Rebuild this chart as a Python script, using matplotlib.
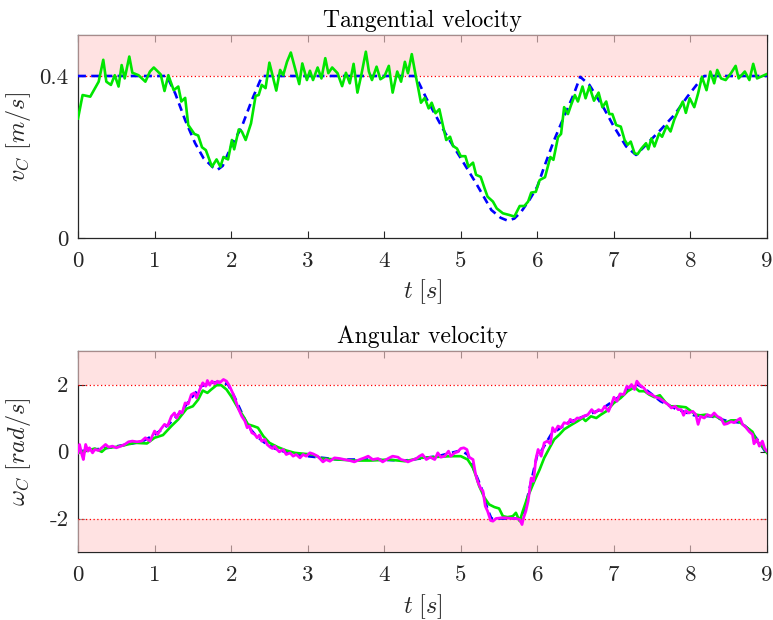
import matplotlib
matplotlib.use("Agg")
import matplotlib.pyplot as plt
import numpy as np

plt.rcParams['font.family'] = ['cmr10', 'DejaVu Serif']
plt.rcParams['mathtext.fontset'] = 'cm'
plt.rcParams['axes.unicode_minus'] = False
plt.rcParams['axes.formatter.use_mathtext'] = True

# ---------------- data: tangential velocity ----------------
v_ref_t = [0.0, 1.16, 1.27, 1.40, 1.53, 1.64, 1.76, 1.82, 1.89, 2.00, 2.14, 2.27, 2.40, 2.42,
           4.41, 4.55, 4.80, 5.00, 5.20, 5.40, 5.52, 5.61, 5.70, 5.79, 5.90, 6.00, 6.09, 6.22,
           6.35, 6.48, 6.56, 6.68, 6.87, 7.00, 7.16, 7.29, 7.44, 7.61, 7.79, 7.96, 8.13, 8.18, 9.0]
v_ref = [0.4, 0.4, 0.357, 0.291, 0.234, 0.197, 0.175, 0.168, 0.178, 0.226, 0.275, 0.340, 0.398, 0.4,
         0.4, 0.345, 0.258, 0.197, 0.135, 0.069, 0.050, 0.043, 0.048, 0.065, 0.095, 0.127, 0.176, 0.242,
         0.300, 0.357, 0.398, 0.378, 0.320, 0.275, 0.226, 0.205, 0.234, 0.267, 0.304, 0.349, 0.390, 0.4, 0.4]

v_meas_t = [0.00, 0.06, 0.16, 0.27, 0.33, 0.37, 0.43, 0.48, 0.53, 0.57, 0.61, 0.67, 0.71, 0.79, 0.88,
            0.94, 0.99, 1.08, 1.13, 1.18, 1.25, 1.31, 1.35, 1.40, 1.44, 1.52, 1.57, 1.62, 1.67, 1.75,
            1.81, 1.86, 1.90, 1.96, 2.01, 2.04, 2.10, 2.14, 2.19, 2.26, 2.32, 2.36, 2.40, 2.45, 2.50,
            2.59, 2.64, 2.68, 2.73, 2.78, 2.83, 2.89, 2.93, 2.99, 3.03, 3.07, 3.13, 3.18, 3.23, 3.27,
            3.32, 3.39, 3.45, 3.50, 3.55, 3.60, 3.65, 3.70, 3.76, 3.80, 3.84, 3.90, 3.95, 4.00, 4.06,
            4.11, 4.17, 4.22, 4.27, 4.31, 4.36, 4.41, 4.44, 4.48, 4.53, 4.58, 4.62, 4.67, 4.72, 4.77,
            4.81, 4.86, 4.90, 4.95, 5.00, 5.06, 5.10, 5.16, 5.20, 5.26, 5.31, 5.35, 5.42, 5.47, 5.55,
            5.63, 5.70, 5.77, 5.83, 5.88, 5.92, 5.98, 6.03, 6.10, 6.17, 6.21, 6.27, 6.31, 6.35, 6.40,
            6.44, 6.49, 6.53, 6.59, 6.63, 6.68, 6.74, 6.80, 6.85, 6.90, 6.94, 6.98, 7.03, 7.09, 7.14,
            7.18, 7.22, 7.27, 7.31, 7.36, 7.42, 7.45, 7.49, 7.53, 7.59, 7.63, 7.69, 7.74, 7.79, 7.85,
            7.90, 7.94, 7.99, 8.05, 8.10, 8.15, 8.21, 8.26, 8.31, 8.35, 8.40, 8.46, 8.53, 8.59, 8.63,
            8.71, 8.77, 8.82, 8.87, 8.94, 9.00]
v_meas = [0.295, 0.353, 0.349, 0.386, 0.440, 0.386, 0.378, 0.402, 0.374, 0.427, 0.394, 0.448, 0.408, 0.402, 0.386,
          0.411, 0.421, 0.404, 0.363, 0.402, 0.365, 0.374, 0.337, 0.346, 0.279, 0.257, 0.253, 0.224, 0.217, 0.176,
          0.194, 0.176, 0.200, 0.194, 0.242, 0.219, 0.268, 0.263, 0.242, 0.283, 0.351, 0.353, 0.378, 0.370, 0.433,
          0.364, 0.415, 0.402, 0.435, 0.458, 0.423, 0.380, 0.431, 0.390, 0.413, 0.390, 0.421, 0.394, 0.444, 0.407,
          0.421, 0.407, 0.375, 0.408, 0.382, 0.430, 0.359, 0.402, 0.460, 0.411, 0.390, 0.423, 0.392, 0.398, 0.425,
          0.359, 0.411, 0.386, 0.435, 0.407, 0.454, 0.402, 0.374, 0.334, 0.346, 0.320, 0.334, 0.308, 0.318, 0.275,
          0.242, 0.250, 0.227, 0.221, 0.202, 0.202, 0.176, 0.186, 0.156, 0.151, 0.123, 0.102, 0.090, 0.073, 0.061,
          0.057, 0.053, 0.079, 0.079, 0.090, 0.112, 0.114, 0.143, 0.150, 0.200, 0.193, 0.249, 0.257, 0.323, 0.306,
          0.328, 0.353, 0.337, 0.374, 0.345, 0.374, 0.339, 0.359, 0.323, 0.337, 0.306, 0.306, 0.279, 0.275, 0.242,
          0.230, 0.238, 0.209, 0.207, 0.221, 0.234, 0.219, 0.246, 0.226, 0.258, 0.250, 0.277, 0.263, 0.293, 0.318,
          0.337, 0.309, 0.345, 0.323, 0.357, 0.398, 0.365, 0.411, 0.382, 0.415, 0.394, 0.390, 0.407, 0.425, 0.394,
          0.411, 0.390, 0.430, 0.394, 0.400, 0.405]

# ---------------- data: angular velocity ----------------
w_ref_t = [0.0, 0.40, 0.83, 1.00, 1.18, 1.35, 1.48, 1.61, 1.74, 1.87, 1.96, 2.05, 2.14, 2.22, 2.33,
           2.44, 2.57, 2.74, 3.00, 3.40, 3.83, 4.27, 4.70, 5.00, 5.09, 5.18, 5.27, 5.35, 5.40, 5.75,
           5.83, 5.92, 6.00, 6.05, 6.18, 6.40, 6.61, 6.83, 7.05, 7.22, 7.29, 7.40, 7.61, 7.83, 8.05,
           8.27, 8.48, 8.66, 8.79, 8.92, 9.00]
w_ref = [0.0, 0.11, 0.29, 0.50, 0.80, 1.20, 1.60, 1.95, 2.05, 2.08, 2.00, 1.60, 1.15, 0.75, 0.46,
         0.26, 0.09, -0.04, -0.14, -0.24, -0.24, -0.27, -0.14, 0.03, -0.09, -0.59, -1.09, -1.73, -2.00, -2.00,
         -1.78, -0.89, -0.09, 0.01, 0.51, 0.86, 1.05, 1.25, 1.60, 1.95, 2.02, 1.88, 1.50, 1.25, 1.08,
         1.05, 0.91, 0.86, 0.61, 0.21, -0.09]

w_meas_t = [0.00, 0.13, 0.22, 0.31, 0.37, 0.48, 0.61, 0.74, 0.90, 1.00, 1.11, 1.22, 1.31, 1.42, 1.50,
            1.57, 1.63, 1.69, 1.74, 1.81, 1.87, 1.94, 2.00, 2.09, 2.16, 2.22, 2.29, 2.35, 2.42, 2.50,
            2.61, 2.72, 2.83, 2.96, 3.07, 3.18, 3.40, 3.61, 3.83, 4.05, 4.27, 4.48, 4.70, 4.87, 5.00,
            5.09, 5.16, 5.20, 5.24, 5.31, 5.37, 5.44, 5.50, 5.55, 5.61, 5.68, 5.72, 5.77, 5.81, 5.87,
            5.96, 6.03, 6.09, 6.16, 6.22, 6.29, 6.35, 6.44, 6.53, 6.59, 6.63, 6.70, 6.77, 6.83, 6.90,
            7.00, 7.09, 7.18, 7.27, 7.33, 7.40, 7.46, 7.53, 7.60, 7.68, 7.74, 7.83, 7.94, 8.00, 8.07,
            8.13, 8.20, 8.27, 8.33, 8.40, 8.46, 8.53, 8.61, 8.68, 8.74, 8.81, 8.87, 8.92, 9.00]
w_meas = [-0.04, 0.03, 0.09, -0.01, 0.11, 0.13, 0.19, 0.26, 0.24, 0.41, 0.49, 0.76, 0.96, 1.28, 1.35,
          1.55, 1.82, 1.75, 1.85, 1.98, 1.98, 1.85, 1.65, 1.30, 1.05, 0.81, 0.76, 0.71, 0.46, 0.26,
          0.13, 0.03, -0.04, -0.07, -0.09, -0.21, -0.24, -0.27, -0.27, -0.24, -0.29, -0.19, -0.16, -0.14, -0.14,
          -0.24, -0.49, -0.74, -1.03, -1.38, -1.58, -1.66, -1.70, -1.93, -1.96, -1.93, -1.83, -2.08, -1.78, -1.38,
          -0.89, -0.54, -0.19, 0.11, 0.36, 0.51, 0.66, 0.79, 0.91, 1.00, 0.91, 1.05, 1.00, 1.10, 1.20,
          1.45, 1.60, 1.80, 1.92, 1.80, 1.80, 1.70, 1.62, 1.68, 1.45, 1.35, 1.35, 1.32, 1.22, 1.10,
          1.08, 1.10, 1.05, 1.05, 0.96, 0.86, 0.93, 0.93, 0.81, 0.71, 0.59, 0.29, 0.21, -0.04]

w_cmd_t = [0.00, 0.02, 0.05, 0.07, 0.10, 0.13, 0.15, 0.19, 0.22, 0.27, 0.31, 0.36, 0.40, 0.45, 0.50,
           0.56, 0.61, 0.66, 0.71, 0.77, 0.83, 0.88, 0.94, 0.97, 1.00, 1.04, 1.08, 1.13, 1.17, 1.22,
           1.26, 1.29, 1.33, 1.36, 1.40, 1.44, 1.48, 1.52, 1.55, 1.59, 1.63, 1.67, 1.69, 1.72, 1.75,
           1.79, 1.82, 1.85, 1.90, 1.94, 1.98, 2.03, 2.07, 2.10, 2.14, 2.18, 2.21, 2.24, 2.27, 2.31,
           2.34, 2.37, 2.40, 2.44, 2.47, 2.51, 2.54, 2.57, 2.60, 2.63, 2.68, 2.72, 2.77, 2.81, 2.85,
           2.90, 2.94, 2.98, 3.03, 3.07, 3.13, 3.20, 3.24, 3.29, 3.35, 3.42, 3.48, 3.55, 3.61, 3.68,
           3.74, 3.79, 3.85, 3.92, 3.98, 4.05, 4.11, 4.18, 4.22, 4.27, 4.31, 4.35, 4.42, 4.46, 4.50,
           4.55, 4.60, 4.66, 4.70, 4.74, 4.79, 4.84, 4.87, 4.92, 4.96, 5.00, 5.04, 5.08, 5.11, 5.16,
           5.19, 5.22, 5.26, 5.29, 5.32, 5.35, 5.39, 5.42, 5.46, 5.53, 5.59, 5.66, 5.72, 5.77, 5.80,
           5.82, 5.85, 5.88, 5.92, 5.95, 5.98, 6.01, 6.05, 6.09, 6.13, 6.17, 6.20, 6.23, 6.27, 6.31,
           6.35, 6.40, 6.43, 6.47, 6.52, 6.56, 6.60, 6.66, 6.71, 6.75, 6.80, 6.84, 6.88, 6.93, 6.97,
           7.00, 7.04, 7.08, 7.13, 7.17, 7.20, 7.23, 7.27, 7.30, 7.34, 7.39, 7.44, 7.49, 7.55, 7.60,
           7.66, 7.71, 7.75, 7.80, 7.84, 7.88, 7.91, 7.94, 7.98, 8.03, 8.07, 8.10, 8.13, 8.18, 8.22,
           8.27, 8.31, 8.35, 8.40, 8.44, 8.48, 8.53, 8.57, 8.61, 8.65, 8.68, 8.72, 8.77, 8.81, 8.83,
           8.87, 8.90, 8.94, 8.97, 9.00]
w_cmd = [-0.04, 0.21, -0.09, -0.24, 0.21, 0.01, 0.11, -0.04, 0.06, 0.03, 0.11, 0.21, 0.13, 0.16, 0.11,
         0.16, 0.21, 0.29, 0.31, 0.29, 0.31, 0.41, 0.31, 0.46, 0.61, 0.51, 0.66, 0.81, 0.76, 1.05,
         1.15, 1.00, 1.20, 1.15, 1.45, 1.42, 1.70, 1.75, 1.60, 1.85, 2.05, 1.95, 2.12, 1.98, 2.10,
         2.02, 2.10, 2.05, 2.15, 2.10, 1.95, 1.70, 1.45, 1.25, 1.05, 0.91, 0.71, 0.76, 0.56, 0.51,
         0.41, 0.49, 0.31, 0.36, 0.21, 0.13, 0.09, 0.16, 0.06, -0.01, 0.06, -0.09, -0.04, -0.14, -0.09,
         -0.19, -0.09, -0.14, -0.04, -0.07, -0.14, -0.31, -0.24, -0.29, -0.19, -0.21, -0.24, -0.27, -0.31, -0.24,
         -0.19, -0.14, -0.24, -0.21, -0.31, -0.21, -0.14, -0.17, -0.24, -0.27, -0.31, -0.27, -0.21, -0.14, -0.09,
         -0.24, -0.17, -0.24, -0.04, -0.17, -0.14, 0.01, -0.14, -0.04, -0.01, 0.09, 0.11, 0.06, -0.17, -0.24,
         -0.64, -0.89, -1.10, -1.18, -1.63, -1.78, -2.06, -2.08, -2.00, -1.98, -1.98, -2.00, -2.00, -2.03, -2.18,
         -1.98, -1.78, -1.48, -0.79, -0.89, -0.24, 0.06, -0.14, 0.26, 0.31, 0.23, 0.71, 0.59, 0.76, 0.71,
         0.86, 0.83, 0.96, 0.89, 1.00, 0.99, 1.05, 1.10, 1.25, 1.15, 1.25, 1.20, 1.35, 1.20, 1.42,
         1.62, 1.50, 1.72, 1.70, 1.95, 1.90, 2.00, 1.85, 2.10, 1.98, 1.90, 1.75, 1.70, 1.62, 1.58,
         1.48, 1.40, 1.30, 1.35, 1.25, 1.25, 1.08, 1.22, 1.15, 1.20, 1.10, 0.81, 1.05, 1.00, 1.10,
         1.05, 1.15, 1.05, 0.99, 0.81, 0.83, 0.89, 0.86, 0.93, 0.99, 0.81, 0.73, 0.59, 0.51, 0.23,
         0.36, 0.16, 0.31, 0.09, 0.01]

v_limit = 0.4
w_limit = 2.0

# ---------------- figure ----------------
W, H = 773, 620
fig = plt.figure(figsize=(W / 100, H / 100), dpi=100)

ax1 = fig.add_axes([78 / W, 1 - 238 / H, (767 - 78) / W, (238 - 35.5) / H])
ax2 = fig.add_axes([78 / W, 1 - 552 / H, (767 - 78) / W, (552 - 351) / H])

GREEN = '#00e600'
BLUE = '#0000ff'
MAGENTA = '#ff00ff'
PINK = '#ffd0d0'
TXT = '#262626'
dash = (0, (3.0, 2.0))

for ax in (ax1, ax2):
    ax.set_xlim(0, 9)
    for s in ax.spines.values():
        s.set_color(TXT)
        s.set_linewidth(0.9)
    ax.tick_params(direction='in', length=5, width=0.8, colors=TXT,
                   top=True, right=True, labelsize=16.5)
    ax.tick_params(axis='x', pad=10)
    ax.tick_params(axis='y', pad=7)
    ax.set_xticks(range(10))
    ax.set_xticklabels([str(i) for i in range(10)])
    ax.set_xlabel(r'$t\ [s]$', fontsize=17.5, color=TXT)

# --- top ---
ax1.set_ylim(0, 0.5)
ax1.set_yticks([0, 0.4])
ax1.set_yticklabels(['0', '0.4'])
ax1.axhspan(v_limit, 0.5, facecolor=PINK, alpha=0.6, lw=0, zorder=2.6)
ax1.axhline(v_limit, color='#ff0000', lw=0.9, ls=(0, (1, 2)), zorder=2.7)
ax1.plot(v_ref_t, v_ref, color=BLUE, lw=1.9, ls=dash, zorder=3)
ax1.plot(v_meas_t, v_meas, color=GREEN, lw=1.9, zorder=4)
ax1.set_title('Tangential velocity', fontsize=17, color='black', pad=6)
ax1.set_ylabel(r'$v_C\ [m/s]$', fontsize=17.5, color=TXT)
ax1.yaxis.set_label_coords(-0.066, 0.5)
ax1.xaxis.set_label_coords(0.5, -0.195)

# --- bottom ---
ax2.set_ylim(-3, 3)
ax2.set_yticks([-2, 0, 2])
ax2.set_yticklabels(['-2', '0', '2'])
ax2.axhspan(w_limit, 3, facecolor=PINK, alpha=0.6, lw=0, zorder=2.6)
ax2.axhspan(-3, -w_limit, facecolor=PINK, alpha=0.6, lw=0, zorder=2.6)
ax2.axhline(w_limit, color='#ff0000', lw=0.9, ls=(0, (1, 2)), zorder=2.7)
ax2.axhline(-w_limit, color='#ff0000', lw=0.9, ls=(0, (1, 2)), zorder=2.7)
ax2.plot(w_ref_t, w_ref, color=BLUE, lw=1.9, ls=dash, zorder=3)
ax2.plot(w_meas_t, w_meas, color=GREEN, lw=1.9, zorder=4)
ax2.plot(w_cmd_t, w_cmd, color=MAGENTA, lw=2.0, zorder=5)
ax2.set_title('Angular velocity', fontsize=17, color='black', pad=6)
ax2.set_ylabel(r'$\omega_C\ [rad/s]$', fontsize=17.5, color=TXT)
ax2.yaxis.set_label_coords(-0.066, 0.5)
ax2.xaxis.set_label_coords(0.5, -0.2)

fig.savefig('out.png', dpi=100)
